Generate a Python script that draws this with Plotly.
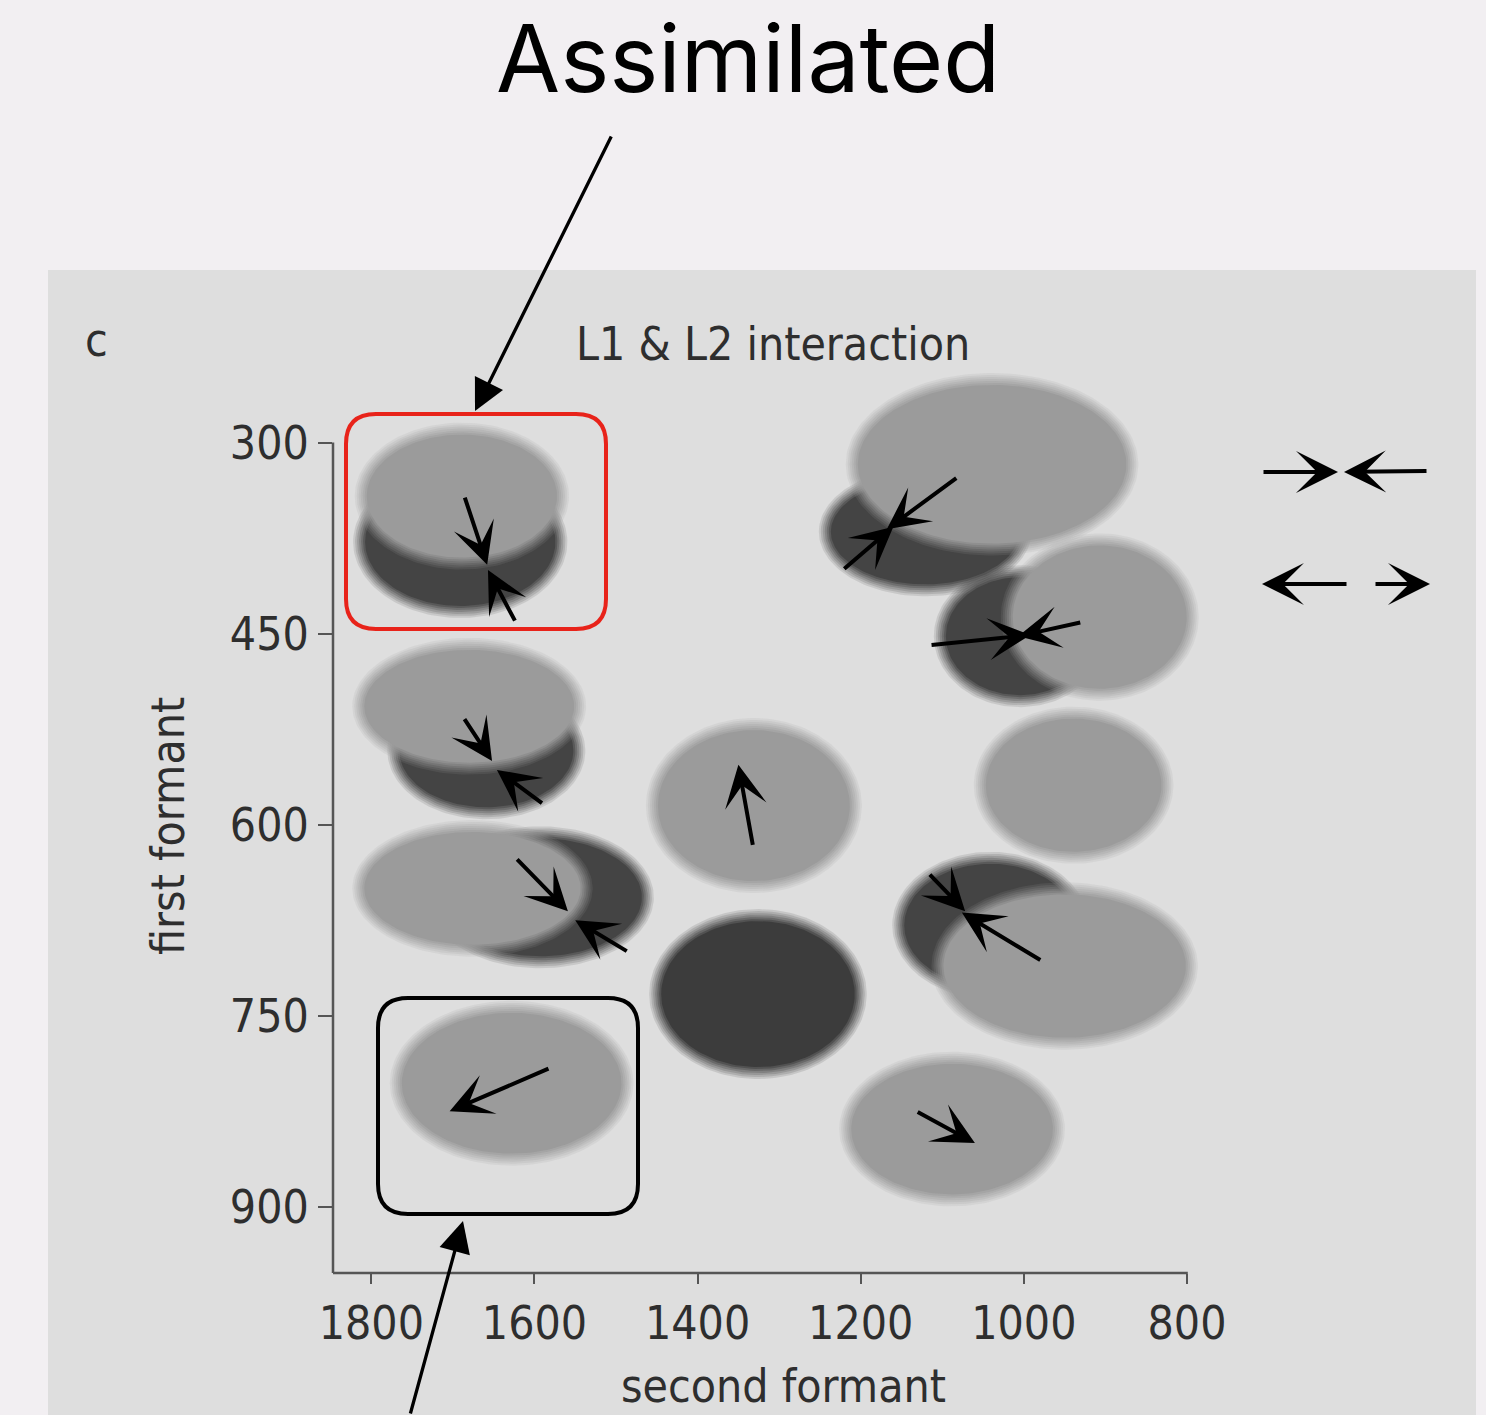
import numpy as np
import plotly.graph_objects as go

W, H = 1486, 1415

# ---------------- data (Hz) ----------------
f2_ticks = [1800, 1600, 1400, 1200, 1000, 800]
f1_ticks = [300, 450, 600, 750, 900]

# vowel categories drawn as ellipses (F2 centre, F1 centre, F2 radius, F1 radius, tone)
ell_f2 = [1691, 1689, 1659, 1680, 1593, 1676, 1331, 1326, 1121, 1039, 1005, 907, 939, 1041, 950, 1628, 1088]
ell_f1 = [378, 342, 542, 507, 657, 650, 585, 733, 370, 317, 452, 437, 569, 679, 711, 803, 839]
ell_rf2 = [124, 124, 114, 136, 132, 140, 125, 126, 123, 172, 98, 114, 115, 113, 156, 142, 131]
ell_rf1 = [55, 53, 49, 49, 51, 49, 64, 62, 46, 67, 51, 61, 57, 53, 61, 60, 56]
ell_tone = ["dark", "light", "dark", "light", "dark", "light", "light", "darkest",
            "dark", "light", "dark", "light", "light", "dark", "light", "light", "light"]

# shift arrows (tail -> tip)
arr_tail_f2 = [1686, 1623, 1687, 1589, 1623, 1485, 1332, 1081, 1222, 1115, 929, 1117, 978, 1581, 1132]
arr_tail_f1 = [342, 441, 516, 584, 626, 700, 617, 327, 400, 459, 441, 638, 707, 791, 825]
arr_tip_f2 = [1658, 1657, 1652, 1646, 1559, 1550, 1350, 1168, 1160, 992, 1007, 1072, 1076, 1704, 1060]
arr_tip_f1 = [396, 400, 550, 557, 668, 675, 553, 368, 366, 451, 452, 668, 669, 825, 850]

# ---------------- layout geometry ----------------
X_RANGE = [1847, 735]
Y_RANGE = [952, 243]
ML, MR, MT, MB = 333, 246, 370, 142
PW = W - ML - MR
PH = H - MT - MB
kx = PW / (X_RANGE[0] - X_RANGE[1])
ky = PH / (Y_RANGE[0] - Y_RANGE[1])

TONES = {"light": (155, 155, 155), "dark": (68, 68, 68), "darkest": (60, 60, 60)}
BG = "#f2eff2"
PANEL = "#dedede"
AXC = "#555555"
TXT = "#2e2e2e"
FONT = "Liberation Sans Narrow, DejaVu Sans Condensed, Liberation Sans, sans-serif"
FS = 46


def paper(px, py):
    return (px - ML) / PW, (H - MB - py) / PH


fig = go.Figure()

# blurred ellipses: stacked translucent rings giving a linear soft edge
t = np.linspace(0, 2 * np.pi, 160)
offsets = [6, 4, 2, 0, -2, -4, -6]
N = len(offsets)
for cx, cy, rx, ry, tone in zip(ell_f2, ell_f1, ell_rf2, ell_rf1, ell_tone):
    r, g, b = TONES[tone]
    for k, d in enumerate(offsets, start=1):
        a = 1.0 / (N + 1 - k)
        ex = cx + (rx + d / kx) * np.cos(t)
        ey = cy + (ry + d / ky) * np.sin(t)
        fig.add_trace(go.Scatter(
            x=ex, y=ey, mode="lines", fill="toself",
            fillcolor=f"rgba({r},{g},{b},{a:.3f})", line=dict(width=0),
            hoverinfo="skip", showlegend=False))

annotations = []
# shift arrows
for tx, ty, hx, hy in zip(arr_tail_f2, arr_tail_f1, arr_tip_f2, arr_tip_f1):
    annotations.append(dict(
        x=hx, y=hy, ax=tx, ay=ty, xref="x", yref="y", axref="x", ayref="y",
        text="", showarrow=True, arrowhead=3, arrowsize=1.75, arrowwidth=4,
        arrowcolor="#000000"))

# legend glyphs (pixel positions, top right)
legend_arrows = [((1262, 472), (1338, 472)), ((1428, 471), (1344, 472)),
                 ((1348, 584), (1262, 584)), ((1374, 584), (1430, 584))]
for (tx, ty), (hx, hy) in legend_arrows:
    px_, py_ = paper(hx, hy)
    annotations.append(dict(
        x=px_, y=py_, xref="paper", yref="paper", ax=tx - hx, ay=ty - hy,
        text="", showarrow=True, arrowhead=3, arrowsize=1.75, arrowwidth=4,
        arrowcolor="#000000"))

# callout arrows
for (tx, ty), (hx, hy) in [((612, 135), (475, 411)), ((410, 1440), (463, 1221))]:
    px_, py_ = paper(hx, hy)
    annotations.append(dict(
        x=px_, y=py_, xref="paper", yref="paper", ax=tx - hx, ay=ty - hy,
        text="", showarrow=True, arrowhead=2, arrowsize=1.9, arrowwidth=3.3,
        arrowcolor="#000000"))


def text_ann(txt, px, py, size, color=TXT, family=FONT, angle=0):
    x, y = paper(px, py)
    return dict(x=x, y=y, xref="paper", yref="paper", text=txt, showarrow=False,
                xanchor="center", yanchor="middle", textangle=angle,
                font=dict(size=size, color=color, family=family))


annotations += [
    text_ann("Assimilated", 748, 58, 93, color="#000000", family="Inter, Open Sans, sans-serif"),
    text_ann("c", 97, 340, FS),
    text_ann("L1 &amp; L2 interaction", 773, 344, FS),
    text_ann("second formant", 783, 1386, FS),
    text_ann("first formant", 168, 826, FS, angle=-90),
]


def rounded_rect(x0, y0, x1, y1, r):
    P = lambda px, py: "%.5f,%.5f" % paper(px, py)
    return ("M " + P(x0 + r, y0) + " L " + P(x1 - r, y0) +
            " Q " + P(x1, y0) + " " + P(x1, y0 + r) +
            " L " + P(x1, y1 - r) + " Q " + P(x1, y1) + " " + P(x1 - r, y1) +
            " L " + P(x0 + r, y1) + " Q " + P(x0, y1) + " " + P(x0, y1 - r) +
            " L " + P(x0, y0 + r) + " Q " + P(x0, y0) + " " + P(x0 + r, y0) + " Z")


px0, py0 = paper(48, 270)
px1, py1 = paper(1476, 1430)
shapes = [
    dict(type="rect", xref="paper", yref="paper", x0=px0, x1=px1, y0=py1, y1=py0,
         fillcolor=PANEL, line=dict(width=0), layer="below"),
    # axis lines
    dict(type="line", xref="paper", yref="y", x0=0, x1=0, y0=300, y1=Y_RANGE[0],
         line=dict(color=AXC, width=2.5)),
    dict(type="line", xref="x", yref="paper", x0=X_RANGE[0], x1=799, y0=0, y1=0,
         line=dict(color=AXC, width=2.5)),
    dict(type="path", xref="paper", yref="paper", path=rounded_rect(346, 414, 606, 629, 30),
         line=dict(color="#e8231a", width=4)),
    dict(type="path", xref="paper", yref="paper", path=rounded_rect(378, 998, 638, 1214, 30),
         line=dict(color="#000000", width=4)),
]

fig.update_layout(
    width=W, height=H, autosize=False,
    margin=dict(l=ML, r=MR, t=MT, b=MB, pad=0),
    paper_bgcolor=BG, plot_bgcolor="rgba(0,0,0,0)",
    showlegend=False, hovermode=False,
    shapes=shapes, annotations=annotations,
    xaxis=dict(range=X_RANGE, tickvals=f2_ticks, ticktext=[str(v) for v in f2_ticks],
               ticks="outside", ticklen=10, tickwidth=2, tickcolor=AXC,
               showline=False, showgrid=False, zeroline=False,
               tickfont=dict(size=FS, color=TXT, family=FONT), ticklabelstandoff=0),
    yaxis=dict(range=Y_RANGE, tickvals=f1_ticks, ticktext=[str(v) for v in f1_ticks],
               ticks="outside", ticklen=14, tickwidth=2, tickcolor=AXC,
               showline=False, showgrid=False, zeroline=False,
               tickfont=dict(size=FS, color=TXT, family=FONT), ticklabelstandoff=0),
)

fig.write_html(
    "out.html",
    config={"displayModeBar": False},
    post_script="document.body.style.margin='0';document.body.style.background='%s';" % BG,
)
